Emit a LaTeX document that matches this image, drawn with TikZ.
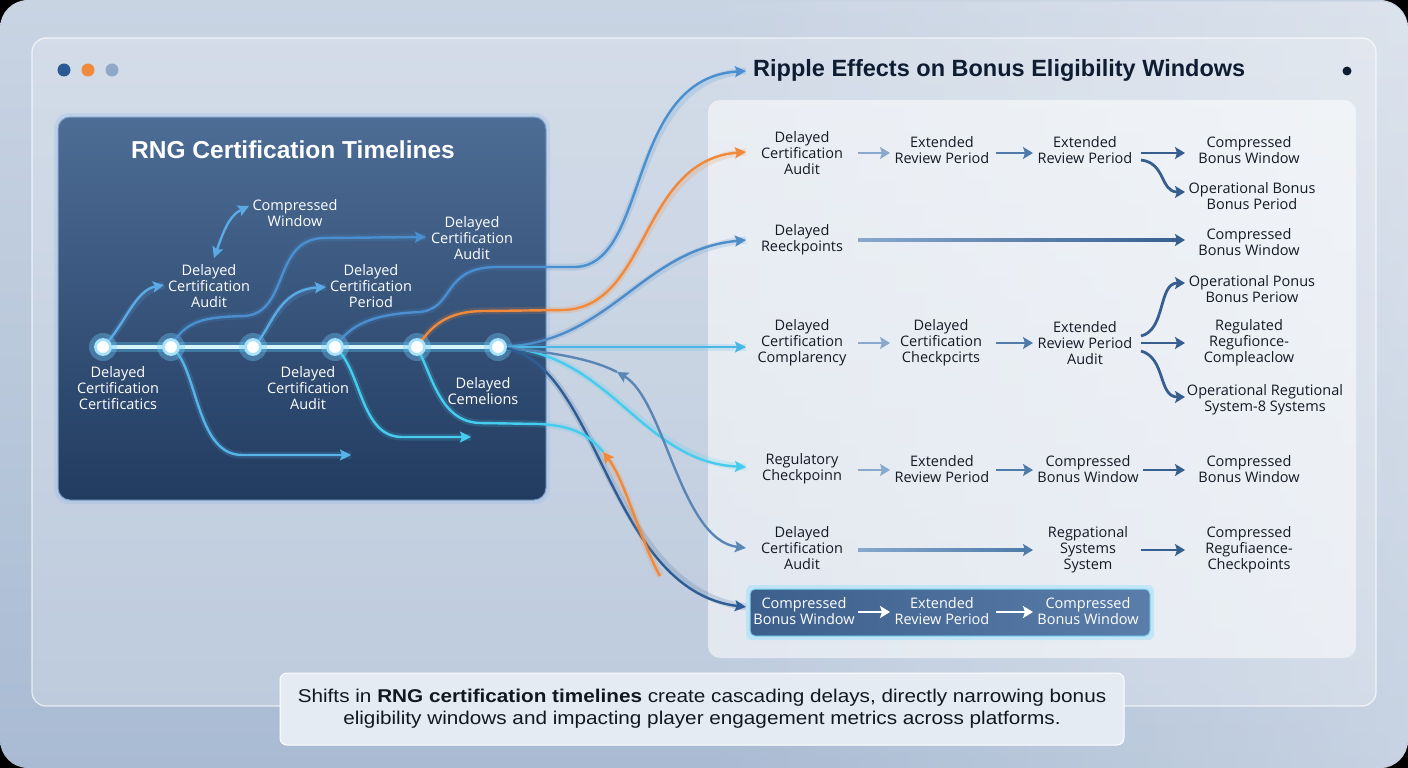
\documentclass[tikz,border=0pt]{standalone}
\usepackage{fontspec}
\setmainfont{Liberation Sans}
\newfontfamily\labfont{Open Sans}
\newfontfamily\capfont[FakeStretch=1.12]{Liberation Sans}
\usetikzlibrary{arrows.meta,fadings}
\definecolor{bgtop}{HTML}{C9D4E3}
\definecolor{bgbot}{HTML}{A9BBD3}
\definecolor{dptop}{HTML}{4D6D96}
\definecolor{dpbot}{HTML}{223B60}
\definecolor{dpshadow}{HTML}{8FB8E8}
\definecolor{dpborder}{HTML}{7FA0C8}
\definecolor{navy}{HTML}{0F1D33}
\definecolor{txtdark}{HTML}{141A26}
\definecolor{dotA}{HTML}{2A5A93}
\definecolor{dotC}{HTML}{8FA8C8}
\definecolor{cA}{HTML}{5AAAE6}
\definecolor{cB}{HTML}{4A8FCF}
\definecolor{cC}{HTML}{4C8CC8}
\definecolor{cE}{HTML}{4AB6E6}
\definecolor{cF}{HTML}{56B4E8}
\definecolor{cCy}{HTML}{45CCEE}
\definecolor{cG}{HTML}{5A86B5}
\definecolor{cD}{HTML}{2E5D95}
\definecolor{cO}{HTML}{F08A3A}
\definecolor{glowc}{HTML}{5BC8F5}
\definecolor{glown}{HTML}{6FD0FF}
\definecolor{tline}{HTML}{D8F4FF}
\definecolor{rL}{HTML}{86A9CC}
\definecolor{rM}{HTML}{4F7BAA}
\definecolor{rD}{HTML}{365F8F}
\definecolor{hbL}{HTML}{3C5F8C}
\definecolor{hbR}{HTML}{5A7DAA}
\definecolor{hbB}{HTML}{7ED8F5}
\definecolor{hbG}{HTML}{6FD6FF}
\definecolor{capfill}{HTML}{E5EBF3}
\definecolor{captext}{HTML}{121821}
\tikzset{
  lab/.style={font=\labfont\fontsize{14.5}{16}\selectfont, align=center, inner sep=1pt},
  llab/.style={lab, text=white},
  rlab/.style={lab, text=txtdark},
  tl/.style={-{Stealth[length=11pt,width=11pt,inset=2pt]}, line width=2.4pt},
  tlb/.style={{Stealth[length=11pt,width=11pt,inset=2pt]}-{Stealth[length=11pt,width=11pt,inset=2pt]}, line width=2.4pt},
  ra/.style={-{Stealth[length=10pt,width=12pt,inset=2pt]}, line width=2.8pt},
  glowy/.style={preaction={draw=#1, line width=7pt, draw opacity=0.18, -}},
  tnode/.style={circle, fill=white, draw=cyan!35!white, line width=2.8pt, minimum size=15pt, inner sep=0pt},
}
\begin{document}
\begin{tikzpicture}[x=1pt,y=-1pt]
\useasboundingbox (0,0) rectangle (1408,768);
% background
\fill[black] (0,0) rectangle (1408,768);
\shade[top color=bgtop, bottom color=bgbot, rounded corners=28pt] (0,0) rectangle (1408,768);
\fill[white, opacity=0.35, path fading=west, rounded corners=28pt] (700,0) rectangle (1408,768);
% outer panel
\fill[white, opacity=0.22, rounded corners=14pt] (32,38) rectangle (1376,706);
\draw[white, opacity=0.7, line width=1.2pt, rounded corners=14pt] (32,38) rectangle (1376,706);
% window dots
\fill[dotA] (64,70) circle (6.5);
\fill[cO] (88,70) circle (6.5);
\fill[dotC] (112,70) circle (6.5);
\fill[navy] (1347,71) circle (4.5);
% right inner panel
\fill[white, opacity=0.55, rounded corners=12pt] (708,100) rectangle (1356,658);
% dark panel
\fill[dpshadow, opacity=0.25, rounded corners=15pt] (54,113) rectangle (550,504);
\shade[top color=dptop, bottom color=dpbot, rounded corners=12pt] (58,117) rectangle (546,500);
\draw[dpborder, line width=1pt, rounded corners=12pt] (58,117) rectangle (546,500);
\node[font=\bfseries\fontsize{24.5}{28}\selectfont, text=white] (lt) at (293,150) {RNG Certification Timelines};
% timeline
\coordinate (ta) at (103,347);
\coordinate (tb) at (498,347);
\draw[glowc, opacity=0.35, line width=10pt, line cap=round] (ta) -- (tb);
\draw[tline, line width=3.5pt] (ta) -- (tb);
% left labels
\node[llab] (l1) at (118,388) {Delayed\\Certification\\Certificatics};
\node[llab] (l2) at (209,286) {Delayed\\Certification\\Audit};
\node[llab] (l3) at (295,213) {Compressed\\Window};
\node[llab] (l4) at (472,238) {Delayed\\Certification\\Audit};
\node[llab] (l5) at (371,286) {Delayed\\Certification\\Period};
\node[llab] (l6) at (308,388) {Delayed\\Certification\\Audit};
\node[llab] (l7) at (483,391) {Delayed\\Cemelions};
% entry coordinates
\coordinate (e0) at (746,71);
\coordinate (e1) at (746,152);
\coordinate (e2) at (746,240);
\coordinate (e3) at (746,347);
\coordinate (e4) at (746,467);
\coordinate (e5) at (746,548);
\coordinate (e6) at (746,607);
\coordinate (a1) at (164,285);
\coordinate (d1) at (214,258);
\coordinate (d2) at (249,206);
\coordinate (a2) at (426,237);
\coordinate (a3) at (326,287);
\coordinate (a4) at (351,455);
\coordinate (a5) at (471,437);
\coordinate (a6) at (603,452);
\coordinate (g1) at (617,372);
\coordinate (o1) at (660,576);
% glow under timeline nodes
\foreach \x in {103,171,253,335,417,498} \fill[glown, opacity=0.35] (\x,347) circle (14);
% curves left panel
\draw[tl, glowy=cA, cA] (ta) .. controls (125,325) and (135,290) .. (a1);
\draw[tlb, cA] (d1) .. controls (222,236) and (228,216) .. (d2);
\draw[tl, glowy=cB, cB] (171,347) .. controls (185,320) and (205,317) .. (245,316) .. controls (290,312) and (272,238) .. (325,238) -- (a2);
\draw[tl, glowy=cA, cA] (253,347) .. controls (272,330) and (276,290) .. (a3);
\draw[tl, glowy=cB, cB] (335,347) .. controls (350,325) and (372,314) .. (420,312) .. controls (455,308) and (442,268) .. (495,267) -- (575,267) .. controls (650,265) and (625,78) .. (e0);
\draw[tl, glowy=cO, cO] (417,347) .. controls (432,325) and (447,311) .. (485,311) -- (565,310) .. controls (650,305) and (640,160) .. (e1);
\draw[tl, glowy=cC, cC] (498,347) .. controls (610,345) and (640,250) .. (e2);
\draw[tl, glowy=cE, cE] (498,347) -- (e3);
\draw[tl, glowy=cCy, cCy] (498,347) .. controls (610,350) and (640,462) .. (e4);
\draw[line width=2.4pt, cG] (498,347) .. controls (550,352) and (590,358) .. (g1);
\draw[tlb, cG] (g1) .. controls (665,400) and (680,540) .. (e5);
\draw[tl, glowy=cD, cD] (498,347) .. controls (600,355) and (605,590) .. (e6);
\draw[tl, glowy=cO, cO] (o1) .. controls (640,540) and (625,480) .. (a6);
\draw[line width=2.4pt, glowy=cCy, cCy] (417,347) .. controls (432,375) and (440,422) .. (480,423) -- (540,424) .. controls (575,426) and (590,436) .. (a6);
\draw[tl, glowy=cF, cF] (171,347) .. controls (198,365) and (195,455) .. (242,455) -- (a4);
\draw[tl, glowy=cCy, cCy] (335,347) .. controls (362,370) and (360,437) .. (402,437) -- (a5);
% timeline nodes
\foreach \n/\x in {t1/103,t2/171,t3/253,t4/335,t5/417,t6/498} \node[tnode] (\n) at (\x,347) {};
% right title
\node[anchor=west, font=\bfseries\fontsize{23.5}{26}\selectfont, text=navy, inner sep=0pt] (rt) at (753,70) {Ripple Effects on Bonus Eligibility Windows};
% row 1
\node[rlab] (r11) at (802,153) {Delayed\\Certification\\Audit};
\node[rlab] (r12) at (942,150) {Extended\\Review Period};
\node[rlab] (r13) at (1085,150) {Extended\\Review Period};
\node[rlab] (r14) at (1249,150) {Compressed\\Bonus Window};
\node[rlab] (r15) at (1252,196) {Operational Bonus\\Bonus Period};
\draw[ra, rL] (858,153) -- (890,153);
\draw[ra, rM] (996,153) -- (1033,153);
\draw[ra, rD] (1141,153) -- (1185,153);
\draw[ra, rD] (1141,160) .. controls (1166,163) and (1160,192) .. (1185,192);
% row 2
\node[rlab] (r21) at (802,240) {Delayed\\Reeckpoints};
\node[rlab] (r22) at (1249,242) {Compressed\\Bonus Window};
\shade[left color=rL, right color=rD] (858,238.6) rectangle (1177,241.4);
\draw[-{Stealth[length=10pt,width=12pt,inset=2pt]}, line width=2.8pt, rD] (1176,240) -- (1185,240);
% row 3
\node[rlab] (r31) at (802,343) {Delayed\\Certification\\Complarency};
\node[rlab] (r32) at (941,343) {Delayed\\Certification\\Checkpcirts};
\node[rlab] (r33) at (1085,343) {Extended\\Review Period\\Audit};
\node[rlab] (r34) at (1252,289) {Operational Ponus\\Bonus Periow};
\node[rlab] (r35) at (1249,343) {Regulated\\Regufionce-\\Compleaclow};
\node[rlab] (r36) at (1265,400) {Operational Regutional\\System-8 Systems};
\draw[ra, rL] (858,343) -- (890,343);
\draw[ra, rM] (996,343) -- (1033,343);
\draw[ra, rD] (1141,343) -- (1185,343);
\draw[ra, rD] (1141,336) .. controls (1166,330) and (1158,283) .. (1185,283);
\draw[ra, rD] (1141,351) .. controls (1166,358) and (1158,397) .. (1185,397);
% row 4
\node[rlab] (r41) at (802,469) {Regulatory\\Checkpoinn};
\node[rlab] (r42) at (942,469) {Extended\\Review Period};
\node[rlab] (r43) at (1088,469) {Compressed\\Bonus Window};
\node[rlab] (r44) at (1249,469) {Compressed\\Bonus Window};
\draw[ra, rL] (858,470) -- (890,470);
\draw[ra, rM] (996,470) -- (1033,470);
\draw[ra, rD] (1143,470) -- (1185,470);
% row 5
\node[rlab] (r51) at (802,548) {Delayed\\Certification\\Audit};
\node[rlab] (r52) at (1088,550) {Regpational\\Systems\\System};
\node[rlab] (r53) at (1249,550) {Compressed\\Regufiaence-\\Checkpoints};
\shade[left color=rL, right color=rM] (858,548.6) rectangle (1025,551.4);
\draw[-{Stealth[length=10pt,width=12pt,inset=2pt]}, line width=2.8pt, rM] (1024,550) -- (1033,550);
\draw[ra, rD] (1141,550) -- (1185,550);
% row 6 highlighted box
\fill[hbG, opacity=0.3, rounded corners=6pt] (746,585) rectangle (1154,640);
\shade[left color=hbL, right color=hbR, rounded corners=5pt] (750,589) rectangle (1150,636);
\draw[hbB, line width=1pt, rounded corners=5pt] (750,589) rectangle (1150,636);
\node[llab] (r61) at (804,611) {Compressed\\Bonus Window};
\node[llab] (r62) at (942,611) {Extended\\Review Period};
\node[llab] (r63) at (1088,611) {Compressed\\Bonus Window};
\draw[ra, white] (858,612) -- (890,612);
\draw[ra, white] (996,612) -- (1033,612);
% caption
\fill[capfill, rounded corners=7pt] (280,673) rectangle (1124,745);
\draw[white, line width=1pt, rounded corners=7pt] (280,673) rectangle (1124,745);
\node[font=\capfont\fontsize{18.5}{22}\selectfont, align=center, text=captext] (cap) at (702,709) {Shifts in \textbf{RNG certification timelines} create cascading delays, directly narrowing bonus\\eligibility windows and impacting player engagement metrics across platforms.};
\end{tikzpicture}
\end{document}
